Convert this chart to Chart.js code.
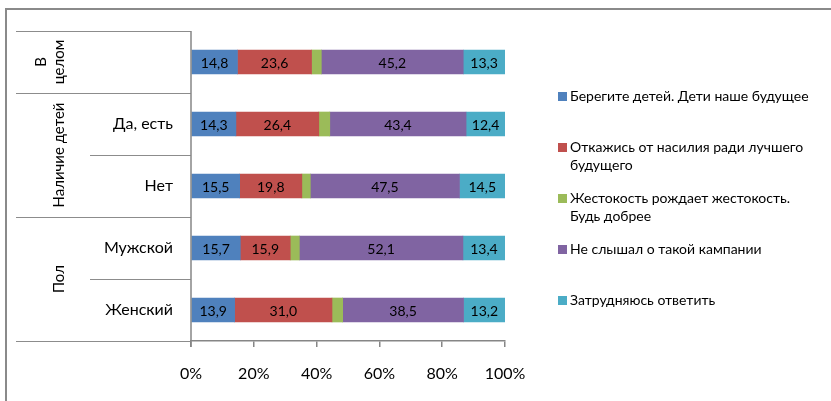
<!DOCTYPE html>
<html>
<head>
<meta charset="utf-8">
<script src="https://cdn.jsdelivr.net/npm/chart.js@4.4.1/dist/chart.umd.min.js"></script>
<style>
  html, body { margin: 0; padding: 0; background: #fff; }
  canvas { display: block; }
</style>
</head>
<body>
<canvas id="chart" width="831" height="401"></canvas>
<script>
// rows, top to bottom
const categories = ['В целом', 'Да, есть', 'Нет', 'Мужской', 'Женский']
const groups = [
  { label: ['В', 'целом'], from: 0, to: 0 },
  { label: ['Наличие детей'], from: 1, to: 2 },
  { label: ['Пол'], from: 3, to: 4 },
]
// "\n" marks where the legend wraps the name
const seriesNames = [
  'Берегите детей. Дети наше будущее',
  'Откажись от насилия ради лучшего\nбудущего',
  'Жестокость рождает жестокость.\nБудь добрее',
  'Не слышал о такой кампании',
  'Затрудняюсь ответить',
]
const protectKids = [14.8, 14.3, 15.5, 15.7, 13.9]
const refuseViolence = [23.6, 26.4, 19.8, 15.9, 31.0]
const crueltyBreeds = [3.1, 3.5, 2.7, 2.9, 3.4]
const notHeard = [45.2, 43.4, 47.5, 52.1, 38.5]
const hardToSay = [13.3, 12.4, 14.5, 13.4, 13.2]
const xTicks = [0, 20, 40, 60, 80, 100]

const colors = ['#4F81BD', '#C0504D', '#9BBB59', '#8064A2', '#4BACC6']
const seriesValues = [protectKids, refuseViolence, crueltyBreeds, notHeard, hardToSay]
const FONT = 'Lato, "Open Sans", sans-serif'
const LINE = '#8C8C8C'

// value labels centered in each segment (green one is too thin)
const valueLabels = {
  id: 'valueLabels',
  afterDatasetsDraw(chart) {
    const { ctx } = chart
    ctx.save()
    ctx.font = '14px ' + FONT
    ctx.fillStyle = '#000'
    ctx.textAlign = 'center'
    ctx.textBaseline = 'middle'
    chart.data.datasets.forEach((ds, i) => {
      if (i === 2) return
      chart.getDatasetMeta(i).data.forEach((bar, j) => {
        const v = ds.data[j].toFixed(1).replace('.', ',')
        ctx.fillText(v, (bar.x + bar.base) / 2, bar.y + 1)
      })
    })
    ctx.restore()
  },
}

// frame, category box lines and the two-level row labels
const rowLabels = {
  id: 'rowLabels',
  afterDraw(chart) {
    const { ctx, chartArea: area } = chart
    const y = chart.scales.y
    const band = (y.getPixelForValue(1) - y.getPixelForValue(0))
    const edge = i => y.getPixelForValue(i) - band / 2
    const outerX = 16, innerX = 90, axisX = area.left
    ctx.save()

    // outer border, cut off at the right and bottom
    ctx.strokeStyle = '#8A8A8A'
    ctx.lineWidth = 2
    ctx.strokeRect(6, 9, 900, 500)

    ctx.strokeStyle = LINE
    ctx.lineWidth = 1
    ctx.beginPath()
    groups.forEach(g => {
      ctx.moveTo(outerX, Math.round(edge(g.from)) + 0.5)
      ctx.lineTo(axisX, Math.round(edge(g.from)) + 0.5)
      for (let k = g.from + 1; k <= g.to; k++) {
        ctx.moveTo(innerX, Math.round(edge(k)) + 0.5)
        ctx.lineTo(axisX, Math.round(edge(k)) + 0.5)
      }
    })
    ctx.moveTo(outerX, Math.round(area.bottom) + 0.5)
    ctx.lineTo(axisX, Math.round(area.bottom) + 0.5)
    ctx.stroke()

    // vertical axis line
    ctx.strokeStyle = '#868686'
    ctx.lineWidth = 1.5
    ctx.beginPath()
    ctx.moveTo(axisX, area.top)
    ctx.lineTo(axisX, area.bottom + 6)
    ctx.stroke()

    ctx.fillStyle = '#000'
    ctx.font = '16px ' + FONT
    ctx.textAlign = 'right'
    ctx.textBaseline = 'middle'
    groups.forEach(g => {
      if (g.from === g.to) return
      for (let k = g.from; k <= g.to; k++) {
        ctx.fillText(categories[k], 173, y.getPixelForValue(k))
      }
    })

    ctx.font = '15px ' + FONT
    ctx.textAlign = 'center'
    groups.forEach(g => {
      const cy = (edge(g.from) + edge(g.to + 1)) / 2
      ctx.save()
      ctx.translate(59, cy)
      ctx.rotate(-Math.PI / 2)
      const n = g.label.length
      g.label.forEach((t, i) => ctx.fillText(t, 0, (i - (n - 1)) * 18))
      ctx.restore()
    })
    ctx.restore()
  },
}

// legend on the right with wrapped names
const sideLegend = {
  id: 'sideLegend',
  afterDraw(chart) {
    const { ctx } = chart
    ctx.save()
    ctx.font = '14px ' + FONT
    ctx.textBaseline = 'middle'
    ctx.textAlign = 'left'
    chart.data.datasets.forEach((ds, i) => {
      const top = 96 + i * 51
      ctx.fillStyle = ds.backgroundColor
      ctx.fillRect(558, top - 4, 9, 9)
      ctx.fillStyle = '#000'
      ds.label.split('\n').forEach((line, k) => {
        ctx.fillText(line, 570, top + k * 18)
      })
    })
    ctx.restore()
  },
}

new Chart(document.getElementById('chart'), {
  type: 'bar',
  data: {
    labels: categories,
    datasets: seriesNames.map((name, i) => ({
      label: name,
      data: seriesValues[i],
      backgroundColor: colors[i],
      borderWidth: 0,
      barThickness: 24,
    })),
  },
  options: {
    indexAxis: 'y',
    responsive: false,
    animation: false,
    devicePixelRatio: 1,
    layout: { padding: { top: 31, right: 326, left: 0, bottom: 0 } },
    plugins: {
      legend: { display: false },
      tooltip: { enabled: false },
    },
    scales: {
      x: {
        stacked: true,
        min: 0,
        max: 100,
        afterBuildTicks: scale => {
          scale.ticks = xTicks.map(v => ({ value: v }))
        },
        afterFit: scale => { scale.height = 60 },
        ticks: {
          callback: v => v + '%',
          font: { family: FONT, size: 16 },
          color: '#000',
          padding: 17,
          maxRotation: 0,
        },
        grid: {
          drawOnChartArea: false,
          drawTicks: true,
          tickLength: 6,
          color: '#868686',
          lineWidth: 1.5,
        },
        border: { display: true, color: '#868686', width: 1.5 },
      },
      y: {
        stacked: true,
        afterFit: scale => { scale.width = 191 },
        ticks: { display: false },
        grid: { display: false },
        border: { display: false },
      },
    },
  },
  plugins: [valueLabels, rowLabels, sideLegend],
})
</script>
</body>
</html>
